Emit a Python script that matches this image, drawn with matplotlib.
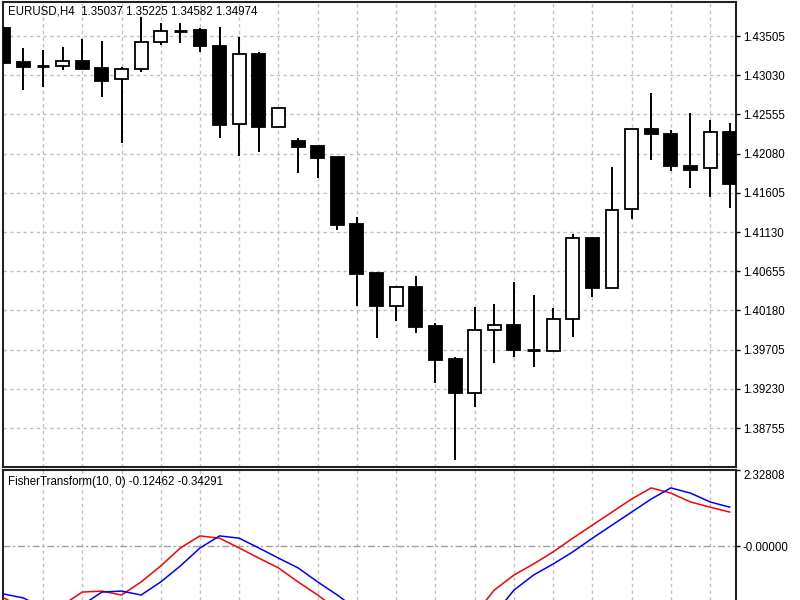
import matplotlib
matplotlib.use("Agg")
import matplotlib.pyplot as plt
import numpy as np

plt.rcParams['font.family'] = ['Liberation Sans', 'DejaVu Sans']

# EURUSD H4 candles (open, high, low, close)
opens = [1.43602, 1.43190, 1.43141, 1.43141, 1.43202, 1.43117, 1.42984, 1.43105, 1.43432, 1.43566,
         1.43578, 1.43384, 1.42439, 1.43287, 1.42402, 1.42233, 1.42172, 1.42039, 1.41227, 1.40633,
         1.40233, 1.40464, 1.39991, 1.39591, 1.39179, 1.39943, 1.40003, 1.39700, 1.39688, 1.40076,
         1.41057, 1.40452, 1.41409, 1.42378, 1.42318, 1.41930, 1.41906, 1.42342]
highs = [1.43614, 1.43360, 1.43335, 1.43372, 1.43469, 1.43444, 1.43129, 1.43735, 1.43663, 1.43663,
         1.43602, 1.43614, 1.43493, 1.43311, 1.42633, 1.42269, 1.42172, 1.42039, 1.41312, 1.40645,
         1.40476, 1.40597, 1.40027, 1.39615, 1.40221, 1.40258, 1.40524, 1.40367, 1.40209, 1.41106,
         1.41057, 1.41918, 1.42378, 1.42814, 1.42366, 1.42572, 1.42487, 1.42451]
lows = [1.43166, 1.42851, 1.42887, 1.43093, 1.43105, 1.42766, 1.42208, 1.43069, 1.43396, 1.43420,
        1.43311, 1.42269, 1.42051, 1.42099, 1.42402, 1.41845, 1.41784, 1.41154, 1.40233, 1.39846,
        1.40052, 1.39906, 1.39300, 1.38367, 1.39010, 1.39543, 1.39615, 1.39494, 1.39688, 1.39858,
        1.40342, 1.40452, 1.41288, 1.42002, 1.41869, 1.41663, 1.41554, 1.41421]
closes = [1.43178, 1.43129, 1.43141, 1.43202, 1.43105, 1.42960, 1.43105, 1.43432, 1.43566, 1.43566,
          1.43384, 1.42427, 1.43287, 1.42402, 1.42633, 1.42160, 1.42027, 1.41215, 1.40621, 1.40233,
          1.40464, 1.39979, 1.39579, 1.39179, 1.39943, 1.40003, 1.39700, 1.39700, 1.40076, 1.41057,
          1.40452, 1.41397, 1.42378, 1.42318, 1.41930, 1.41881, 1.42342, 1.41712]

# Fisher transform (red) and its trigger (blue)
fisher = [-1.59, -1.90, -2.02, -1.81, -1.41, -1.38, -1.50, -1.10, -0.61, -0.06,
          0.31, 0.24, -0.06, -0.37, -0.67, -1.10, -1.50, -1.95, -2.40, -2.60,
          -2.80, -2.90, -2.80, -2.50, -2.10, -1.35, -0.89, -0.55, -0.18, 0.24,
          0.64, 1.04, 1.44, 1.78, 1.62, 1.35, 1.19, 1.04]
trigger = [-1.47, -1.59, -1.90, -2.02, -1.81, -1.41, -1.38, -1.50, -1.10, -0.61,
           -0.06, 0.31, 0.24, -0.06, -0.37, -0.67, -1.10, -1.50, -1.95, -2.40,
           -2.60, -2.80, -2.90, -2.80, -2.50, -2.10, -1.35, -0.89, -0.55, -0.18,
           0.24, 0.64, 1.04, 1.44, 1.78, 1.62, 1.35, 1.19]

price_ticks = [1.38755, 1.39230, 1.39705, 1.40180, 1.40655, 1.41130,
               1.41605, 1.42080, 1.42555, 1.43030, 1.43505]
fisher_ticks = [0.0, 2.32808]
fisher_labels = ["-0.00000", "2.32808"]

title_main = "EURUSD,H4  1.35037 1.35225 1.34582 1.34974"
title_ind = "FisherTransform(10, 0) -0.12462 -0.34291"

grid_col = "#c0c0c0"
dash = (0, (2.4, 2.4))

fig = plt.figure(figsize=(8, 6), dpi=100)
ax = fig.add_axes([3/800, 133/600, 733/800, 465/600])
ax2 = fig.add_axes([3/800, 0, 733/800, 130/600])

x = np.arange(len(opens))
o = np.array(opens); c = np.array(closes)
h = np.array(highs); l = np.array(lows)

# wicks
ax.vlines(x, l, h, color="black", lw=1.4, zorder=2)
# bodies
bull = c > o
bear = c < o
doji = c == o
ax.bar(x[bear], (o - c)[bear], bottom=c[bear], width=0.66, color="black",
       edgecolor="black", lw=1.3, zorder=3)
ax.bar(x[bull], (c - o)[bull], bottom=o[bull], width=0.66, color="white",
       edgecolor="black", lw=1.3, zorder=3)
ax.hlines(o[doji], x[doji] - 0.33, x[doji] + 0.33, color="black", lw=2, zorder=3)

xmin, xmax = -0.04, 37.32
for a in (ax, ax2):
    a.set_xlim(xmin, xmax)
    a.set_xticks([])
    for xv in range(2, 38, 2):
        a.axvline(xv, color=grid_col, lw=1, ls=dash, zorder=0)
    for s in a.spines.values():
        s.set_linewidth(1.5)
        s.set_color("#222222")
    a.yaxis.tick_right()
    a.tick_params(axis="y", direction="out", length=3, width=1, pad=2,
                  labelsize=8.3, colors="black")

ax.set_ylim(1.38283, 1.43917)
ax.set_yticks(price_ticks)
ax.set_yticklabels(["%.5f" % v for v in price_ticks])
for yv in price_ticks:
    ax.axhline(yv, color=grid_col, lw=1, ls=dash, zorder=0)

# indicator window
ax2.plot(x, fisher, color="#ff0000", lw=1.1, zorder=3)
ax2.plot(x, trigger, color="#0000ff", lw=1.1, zorder=3)
ax2.axhline(0, color="#a0a0a0", lw=1, ls=(0, (5, 2, 1.5, 2)), zorder=1)
ax2.set_ylim(-1.653, 2.32808)
ax2.set_yticks(fisher_ticks)
ax2.set_yticklabels(fisher_labels)
ax2.get_yticklabels()[1].set_va("top")
ax2.spines["bottom"].set_visible(False)

fig.text(8/800, 1 - 11/600, title_main, fontsize=8.3, va="center", ha="left")
fig.text(8/800, 1 - 482/600, title_ind, fontsize=8.3, va="center", ha="left")

fig.savefig("out.png", dpi=100)
